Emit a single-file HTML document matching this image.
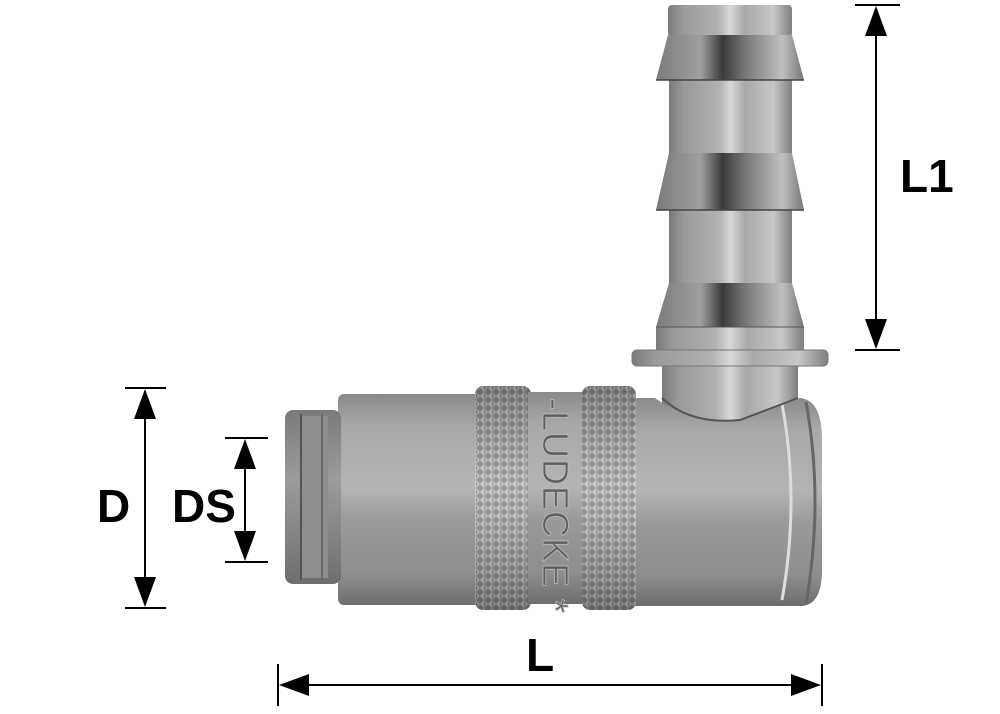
<!DOCTYPE html>
<html><head><meta charset="utf-8"><style>
html,body{margin:0;padding:0;background:#fff;}
svg{display:block;}
</style></head><body>
<svg width="1000" height="714" viewBox="0 0 1000 714" xmlns="http://www.w3.org/2000/svg">
<defs>
<linearGradient id="gv" x1="0" y1="0" x2="1" y2="0">
<stop offset="0" stop-color="#7a7a7a"/><stop offset="0.12" stop-color="#9a9a9a"/><stop offset="0.4" stop-color="#b0b0b0"/><stop offset="0.5" stop-color="#d8d8d8"/><stop offset="0.62" stop-color="#a8a8a8"/><stop offset="0.85" stop-color="#c8c8c8"/><stop offset="1" stop-color="#7e7e7e"/>
</linearGradient>
<linearGradient id="gcone" x1="0" y1="0" x2="1" y2="0">
<stop offset="0" stop-color="#7a7a7a"/><stop offset="0.3" stop-color="#a0a0a0"/><stop offset="0.45" stop-color="#3a3a3a"/><stop offset="0.6" stop-color="#767676"/><stop offset="0.85" stop-color="#c0c0c0"/><stop offset="1" stop-color="#777"/>
</linearGradient>
<linearGradient id="gh" x1="0" y1="0" x2="0" y2="1">
<stop offset="0" stop-color="#8a8a8a"/><stop offset="0.15" stop-color="#a8a8a8"/><stop offset="0.45" stop-color="#b4b4b4"/><stop offset="0.6" stop-color="#9a9a9a"/><stop offset="0.85" stop-color="#8e8e8e"/><stop offset="1" stop-color="#6e6e6e"/>
</linearGradient>
<linearGradient id="gring" x1="0" y1="0" x2="0" y2="1">
<stop offset="0" stop-color="#7a7a7a"/><stop offset="0.4" stop-color="#9c9c9c"/><stop offset="1" stop-color="#6e6e6e"/>
</linearGradient>
<pattern id="knurl" width="8" height="8" patternUnits="userSpaceOnUse">
<rect width="8" height="8" fill="#8a8a8a"/>
<path d="M4 0 L8 4 L4 8 L0 4Z" fill="#c4c4c4"/>
<path d="M4 1 L6 4 L4 7" fill="#6a6a6a" opacity="0.6"/>
</pattern>
<linearGradient id="kshade" x1="0" y1="0" x2="0" y2="1">
<stop offset="0" stop-color="#000" stop-opacity="0.25"/><stop offset="0.45" stop-color="#fff" stop-opacity="0.15"/><stop offset="1" stop-color="#000" stop-opacity="0.3"/>
</linearGradient>
</defs>

<!-- hose barb -->
<rect x="662" y="360" width="136" height="62" fill="url(#gv)"/>
<rect x="668" y="5" width="124" height="32" rx="4" fill="url(#gv)"/>
<polygon points="668,35 792,35 804,80 656,80" fill="url(#gcone)"/>
<rect x="669" y="80" width="123" height="74" fill="url(#gv)"/>
<polygon points="669,153 792,153 804,210 656,210" fill="url(#gcone)"/>
<rect x="669" y="210" width="123" height="74" fill="url(#gv)"/>
<polygon points="669,283 792,283 804,327 656,327" fill="url(#gcone)"/>
<rect x="656" y="327" width="148" height="24" fill="url(#gv)"/>
<line x1="656" y1="80" x2="804" y2="80" stroke="#444" stroke-width="1.5"/>
<line x1="656" y1="210" x2="804" y2="210" stroke="#444" stroke-width="1.5"/>
<line x1="656" y1="327" x2="804" y2="327" stroke="#555" stroke-width="1"/>
<rect x="632" y="350" width="196" height="16" rx="5" fill="url(#gv)" stroke="#777" stroke-width="1"/>

<!-- elbow body -->
<path d="M618 398 L655 398 Q690 425 740 420 L800 398 Q822 400 822 440 L822 570 Q822 606 800 606 L618 606 Z" fill="url(#gh)"/>
<path d="M782 404 Q800 500 782 600" fill="none" stroke="#ddd" stroke-width="3"/>
<path d="M806 402 Q824 500 806 604" fill="none" stroke="#666" stroke-width="3"/>
<path d="M662 398 Q690 425 740 420 L798 398" fill="none" stroke="#555" stroke-width="2"/>

<!-- main body -->
<rect x="338" y="394" width="142" height="211" rx="6" fill="url(#gh)"/>
<!-- front ring -->
<rect x="285" y="410" width="56" height="174" rx="8" fill="url(#gring)"/>
<rect x="300" y="416" width="28" height="162" fill="#8e8e8e"/>
<line x1="301" y1="414" x2="301" y2="580" stroke="#555" stroke-width="2"/>
<line x1="322" y1="414" x2="322" y2="580" stroke="#666" stroke-width="2"/>

<!-- knurl sleeve -->
<rect x="475" y="386" width="56" height="224" rx="8" fill="url(#knurl)"/>
<rect x="475" y="386" width="56" height="224" rx="8" fill="url(#kshade)"/>
<rect x="528" y="392" width="56" height="212" fill="url(#gh)"/>
<rect x="582" y="386" width="54" height="224" rx="8" fill="url(#knurl)"/>
<rect x="582" y="386" width="54" height="224" rx="8" fill="url(#kshade)"/>
<text transform="translate(543,398) rotate(90)" font-family="Liberation Sans, sans-serif" font-size="36" fill="#5e5e5e" stroke="#bbb" stroke-width="0.8" letter-spacing="1">-LUDECKE *</text>

<!-- dimensions -->
<g stroke="#000" stroke-width="2" fill="#000">
<line x1="855" y1="5" x2="900" y2="5"/>
<line x1="855" y1="350" x2="900" y2="350"/>
<line x1="876" y1="30" x2="876" y2="325"/>
<polygon points="876,6 865,36 887,36" stroke="none"/>
<polygon points="876,349 865,319 887,319" stroke="none"/>

<line x1="125" y1="388" x2="166" y2="388"/>
<line x1="125" y1="608" x2="166" y2="608"/>
<line x1="145" y1="410" x2="145" y2="586"/>
<polygon points="145,389 134,419 156,419" stroke="none"/>
<polygon points="145,607 134,577 156,577" stroke="none"/>

<line x1="225" y1="438" x2="268" y2="438"/>
<line x1="225" y1="562" x2="268" y2="562"/>
<line x1="245" y1="460" x2="245" y2="540"/>
<polygon points="245,439 234,469 256,469" stroke="none"/>
<polygon points="245,561 234,531 256,531" stroke="none"/>

<line x1="278" y1="664" x2="278" y2="706"/>
<line x1="822" y1="664" x2="822" y2="706"/>
<line x1="300" y1="685" x2="800" y2="685"/>
<polygon points="279,685 309,674 309,696" stroke="none"/>
<polygon points="821,685 791,674 791,696" stroke="none"/>
</g>
<g font-family="Liberation Sans, sans-serif" font-weight="bold" font-size="46" fill="#000">
<text x="900" y="192">L1</text>
<text x="97" y="522">D</text>
<text x="172" y="522">DS</text>
<text x="526" y="671">L</text>
</g>
</svg>
</body></html>
